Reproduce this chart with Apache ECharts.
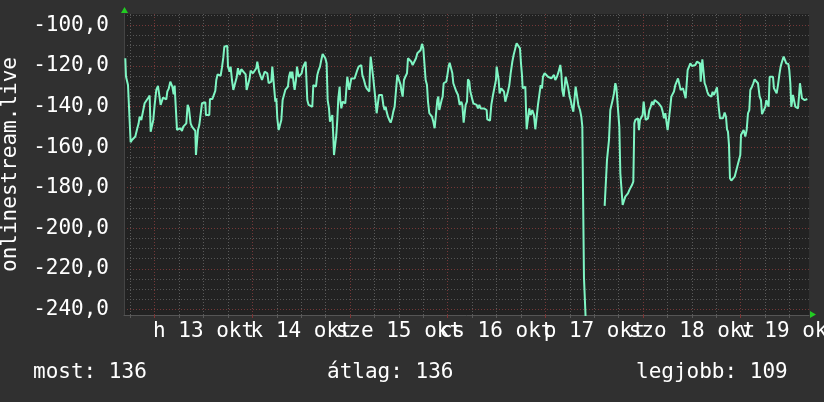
<!DOCTYPE html>
<html>
<head>
<meta charset="utf-8">
<script src="https://cdn.jsdelivr.net/npm/echarts@6/dist/echarts.min.js"></script>
<style>html,body{margin:0;padding:0;background:#303030;}#c{width:824px;height:402px;}</style>
</head>
<body>
<div id="c"></div>
<script>
// hours relative to 13 okt 00:00
const hrs = [-7.22,-7.05,-6.73,-6.56,-6.07,-5.91,-5.58,-4.76,-4.27,-3.94,-3.70,-3.29,-2.88,-2.47,-2.06,-1.65,-1.24,-0.99,-0.58,-0.34,-0.01,0.40,0.81,1.22,1.46,1.79,2.04,2.86,3.10,3.43,3.84,4.08,4.33,4.66,4.90,5.31,5.48,5.89,6.30,6.70,7.03,7.77,8.10,8.42,8.83,9.16,9.65,9.98,10.14,10.47,10.64,10.96,11.29,11.62,12.44,12.60,13.42,13.58,14.16,14.89,15.14,15.47,16.20,16.53,16.86,17.11,17.84,18.01,18.42,18.66,18.99,19.32,19.81,20.14,20.46,20.87,21.28,21.77,22.35,22.59,23.08,23.33,23.58,24.15,24.56,24.97,25.21,
25.63,26.04,26.37,26.69,27.02,27.43,27.68,28.00,28.33,28.66,28.90,29.23,29.40,29.64,29.89,30.13,30.46,30.79,31.12,31.44,31.77,32.10,32.43,32.75,33.00,33.33,33.57,33.82,34.15,34.39,34.72,34.97,35.38,35.78,36.11,36.36,36.69,37.10,37.34,37.50,37.83,38.73,38.98,39.31,39.63,39.96,40.29,40.62,40.94,41.27,41.60,41.93,42.25,42.50,42.83,43.07,43.40,43.65,43.89,44.06,44.38,44.63,44.87,45.12,45.45,45.61,45.86,46.19,46.84,47.09,47.33,47.66,47.82,48.07,48.31,49.13,49.54,49.79,50.12,50.77,51.02,51.43,51.75,52.08,52.74,52.90,53.07,53.48,53.72,53.97,54.21,54.54,54.87,55.11,55.52,55.85,56.18,56.50,56.75,56.99,57.32,57.65,57.98,58.31,58.63,58.96,59.29,59.62,59.94,60.44,
60.60,60.93,61.26,61.59,62.00,62.24,62.65,63.06,63.39,63.88,64.21,64.54,65.03,65.35,65.68,66.01,66.34,66.58,66.91,67.16,67.48,68.14,68.47,68.79,69.20,69.45,69.70,69.94,70.27,70.51,70.76,71.01,71.66,71.99,72.23,72.48,72.89,73.14,73.38,73.71,74.12,74.53,74.94,75.35,75.59,75.92,76.17,76.41,76.74,76.98,77.31,77.56,77.97,78.29,79.11,79.44,79.77,80.10,80.42,80.92,81.24,81.57,81.73,82.39,82.72,83.13,83.54,83.86,84.03,84.36,84.52,84.76,85.17,85.58,85.83,86.16,86.48,86.81,87.14,87.47,87.88,88.20,88.61,88.94,89.43,89.76,90.01,90.25,90.42,91.07,91.40,91.73,92.05,92.38,92.79,93.20,93.53,93.86,94.18,94.51,94.84,
95.17,95.41,95.82,96.23,96.64,97.46,98.12,98.44,98.85,99.26,99.67,99.92,100.16,100.49,100.74,100.98,101.31,101.56,101.97,102.21,102.54,102.87,103.19,103.44,103.85,104.10,104.51,104.83,105.08,105.41,105.49,105.98,106.22,108.0,
110.57,110.98,111.14,111.39,111.63,111.96,112.29,112.53,112.86,113.19,113.43,113.68,113.92,114.17,114.42,114.74,114.99,115.32,115.64,116.30,116.63,117.28,117.61,117.86,118.10,118.43,118.76,119.00,119.25,119.90,120.15,120.39,120.64,121.21,121.54,121.87,122.20,122.52,122.85,123.18,123.83,124.49,124.82,125.14,125.47,125.80,126.04,126.37,126.62,126.95,127.60,127.93,128.26,128.59,128.91,129.24,
129.82,130.22,130.47,130.80,130.96,131.29,131.62,132.03,132.85,133.25,133.66,133.99,134.16,134.40,134.57,134.97,135.14,135.47,135.79,136.12,136.45,136.78,137.10,137.43,137.76,138.17,138.41,138.58,138.91,139.23,139.64,140.05,140.38,140.63,140.87,141.12,141.36,141.69,142.10,142.51,142.84,143.16,143.57,143.90,144.07,144.39,144.72,145.13,145.46,145.79,146.11,146.36,146.77,147.10,147.42,147.83,148.24,148.65,148.98,149.23,149.72,150.05,150.29,150.54,150.86,151.11,151.93,152.17,152.50,152.83,153.16,153.49,153.81,154.14,154.55,154.88,155.20,155.70,155.94,156.19,156.43,156.84,157.09,157.42,157.74,158.07,158.32,158.56,158.81,159.05,159.71,160.12,160.37];
const vals = [-116.2,-125.2,-125.2,-129.4,-129.4,-157.6,-156.5,-154.8,-150.7,-148.3,-145.0,-146.6,-142.5,-138.4,-137.6,-135.9,-134.6,-152.4,-152.4,-146.6,-139.2,-131.8,-129.8,-129.4,-139.2,-139.2,-135.6,-136.4,-132.6,-131.3,-127.7,-126.9,-130.2,-134.0,-129.7,-129.7,-151.5,-152.0,-150.7,-152.0,-149.9,-148.3,-139.2,-140.9,-148.3,-149.9,-150.7,-152.0,-163.9,-164.2,-151.5,-149.1,-148.3,-138.4,-137.9,-144.2,-144.2,-136.3,-136.3,-132.3,-126.9,-124.1,-124.8,-120.8,-115.9,-110.5,-110.0,-120.3,-122.8,-120.3,-126.9,-131.8,-131.8,-125.7,-121.1,-124.4,-121.6,-121.9,-124.1,-131.8,-131.8,-126.1,-122.3,-123.6,-124.4,-121.1,-117.9,
-122.8,-123.6,-126.9,-127.7,-122.8,-122.8,-123.6,-128.5,-129.4,-127.7,-120.3,-119.5,-131.8,-137.6,-135.9,-145.8,-151.6,-151.6,-146.6,-136.8,-134.3,-131.8,-131.8,-130.2,-125.3,-122.8,-126.1,-122.8,-128.5,-131.8,-126.9,-120.3,-125.3,-125.3,-123.6,-121.1,-119.5,-117.9,-117.9,-136.8,-139.2,-140.1,-129.4,-128.5,-130.2,-124.4,-122.0,-120.3,-117.0,-114.1,-113.4,-116.2,-118.7,-136.8,-140.9,-147.5,-147.5,-144.2,-154.8,-163.9,-164.4,-154.0,-146.6,-135.9,-130.2,-136.8,-140.9,-137.6,-138.4,-137.6,-125.3,-125.3,-131.8,-131.0,-126.1,-126.1,-126.9,-122.0,-120.3,-119.5,-124.4,-126.9,-129.4,-131.0,-132.6,-122.0,-115.4,-115.4,-126.1,-131.0,-135.9,-143.3,-143.3,-134.3,-133.5,-134.3,-139.2,-141.7,-140.1,-142.5,-145.0,-146.6,-147.9,-145.8,-142.5,-140.1,-140.9,-124.4,-123.6,-129.4,
-131.8,-135.1,-126.9,-125.3,-123.6,-116.2,-117.0,-117.9,-119.5,-119.5,-116.2,-113.7,-113.3,-112.1,-109.1,-111.3,-112.1,-126.9,-129.4,-137.6,-143.3,-145.0,-147.5,-150.7,-151.6,-136.8,-135.1,-141.7,-141.7,-136.8,-135.1,-128.5,-127.7,-123.6,-120.3,-118.4,-118.7,-123.6,-128.5,-128.5,-132.6,-134.3,-139.2,-137.6,-139.2,-147.9,-147.9,-139.2,-137.6,-126.6,-127.7,-132.6,-131.8,-138.4,-139.2,-140.9,-139.2,-140.9,-140.1,-140.9,-140.1,-141.7,-146.3,-146.9,-139.2,-134.3,-134.3,-126.9,-120.3,-120.7,-126.9,-133.5,-131.0,-131.0,-132.6,-137.6,-135.1,-132.6,-129.4,-123.6,-117.9,-114.6,-111.3,-108.8,-108.8,-111.3,-118.7,-124.4,-131.0,-130.2,-151.2,-151.2,-140.9,-144.2,-141.7,-144.2,-151.2,-150.7,-139.2,-134.3,-129.4,
-131.0,-125.3,-123.6,-123.6,-125.3,-126.1,-124.4,-126.9,-125.3,-122.8,-119.5,-123.6,-131.8,-135.1,-135.9,-125.3,-124.4,-130.2,-135.1,-136.8,-140.1,-142.5,-143.3,-130.2,-130.2,-139.2,-141.7,-145.0,-149.9,-149.9,-224.7,-224.7,-260.0,null,
-189.0,-188.5,-166.4,-165.5,-156.5,-141.7,-141.7,-136.8,-133.5,-128.5,-130.2,-136.8,-136.8,-149.9,-172.9,-172.9,-188.5,-188.5,-184.4,-182.8,-181.2,-178.7,-177.0,-148.3,-146.6,-145.8,-145.8,-151.6,-146.6,-144.2,-137.6,-137.6,-146.6,-145.8,-141.7,-140.1,-137.6,-139.2,-136.8,-136.8,-138.4,-140.1,-142.5,-145.8,-143.3,-142.5,-151.6,-151.6,-141.7,-135.1,-132.6,-129.4,-128.5,-126.1,-126.9,-131.8,
-131.0,-131.8,-135.9,-135.9,-122.0,-121.1,-118.7,-120.0,-119.5,-117.9,-117.9,-118.7,-127.7,-127.7,-116.7,-116.7,-128.5,-130.2,-132.7,-134.3,-135.1,-135.1,-132.7,-134.3,-133.5,-130.5,-130.2,-140.1,-145.8,-146.3,-145.8,-143.0,-145.0,-151.2,-152.4,-159.0,-175.4,-176.5,-176.5,-174.6,-173.8,-169.6,-168.8,-163.9,-154.0,-153.2,-151.6,-154.8,-151.6,-143.3,-141.7,-131.8,-130.2,-128.5,-126.6,-126.6,-128.5,-135.1,-136.8,-143.7,-143.7,-140.1,-136.8,-137.6,-140.1,-125.3,-125.3,-131.0,-131.8,-133.5,-129.4,-124.4,-120.3,-117.9,-115.4,-115.1,-118.7,-119.0,-122.0,-128.5,-140.1,-134.3,-134.3,-140.1,-139.2,-140.9,-135.1,-128.5,-129.4,-135.9,-136.8,-136.3,-136.3];

const dayTicks = [0, 24, 48, 72, 96, 120, 144];
const dayLabelPos = [12, 36, 60, 84, 108, 132, 156];
const dayLabels = ['h 13 okt', 'k 14 okt', 'sze 15 okt', 'cs 16 okt', 'p 17 okt', 'szo 18 okt', 'v 19 okt'];
const minorX = [-6, 6, 12, 18, 30, 36, 42, 54, 60, 66, 78, 84, 90, 102, 108, 114, 126, 132, 138, 150, 156];
const yMajor = [-240, -220, -200, -180, -160, -140, -120, -100];
const yMinor = [-235,-230,-225,-215,-210,-205,-195,-190,-185,-175,-170,-165,-155,-150,-145,-135,-130,-125,-115,-110,-105,-95];
const yName = 'onlinestream.live';
const stats = ['most: 136', 'átlag: 136', 'legjobb: 109'];

const FONT = 'DejaVu Sans Mono';
const X_MIN = -7.54, X_MAX = 160.78, Y_MIN = -242.8, Y_MAX = -94.35;
const data = hrs.map((h, i) => [h, vals[i]]);
const dayLabelFmt = v => dayLabels[dayLabelPos.indexOf(Math.round(v))] || '';
const evenPos = dayLabelPos.filter((p, i) => i % 2 === 0);
const oddPos = dayLabelPos.filter((p, i) => i % 2 === 1);

function labelAxis(values) {
  return {type: 'value', min: X_MIN, max: X_MAX, position: 'bottom',
    axisLine: {show: false, onZero: false}, axisTick: {show: false}, splitLine: {show: false},
    axisLabel: {show: true, customValues: values, margin: 6, color: '#ffffff',
      fontFamily: FONT, fontSize: 21, showMinLabel: true, showMaxLabel: true, hideOverlap: false,
      formatter: dayLabelFmt}};
}

const chart = echarts.init(document.getElementById('c'), null, {renderer: 'canvas'});
chart.setOption({
  animation: false,
  backgroundColor: '#303030',
  grid: {left: 124, right: 15, top: 14, bottom: 87, show: true, backgroundColor: '#222222', borderWidth: 0,
         containLabel: false, outerBoundsMode: 'none'},
  xAxis: [
    {type: 'value', min: X_MIN, max: X_MAX, position: 'bottom',
     axisLine: {show: true, onZero: false, lineStyle: {color: '#555555', width: 1}},
     axisTick: {show: true, customValues: minorX, length: 3, lineStyle: {color: '#5a5a5a'}},
     axisLabel: {show: false},
     splitLine: {show: true, lineStyle: {color: '#5a5a5a', width: 1, type: [1, 2]}}},
    {type: 'value', min: X_MIN, max: X_MAX, position: 'bottom',
     axisLine: {show: false, onZero: false},
     axisTick: {show: true, customValues: dayTicks, length: 3, lineStyle: {color: '#803434'}},
     axisLabel: {show: false},
     splitLine: {show: true, lineStyle: {color: '#743838', width: 1, type: [1, 2]}}},
    labelAxis(evenPos),
    labelAxis(oddPos)
  ],
  yAxis: [
    {type: 'value', min: Y_MIN, max: Y_MAX,
     axisLine: {show: true, onZero: false, lineStyle: {color: '#444444'}},
     axisTick: {show: false, customValues: yMinor},
     axisLabel: {show: false},
     splitLine: {show: true, lineStyle: {color: '#555555', width: 1, type: [1, 2]}},
     name: yName, nameLocation: 'middle', nameRotate: 90, nameGap: 103,
     nameTextStyle: {color: '#ffffff', fontFamily: FONT, fontSize: 21}},
    {type: 'value', min: Y_MIN, max: Y_MAX, position: 'left',
     axisLine: {show: false, onZero: false},
     axisTick: {show: false, customValues: yMajor},
     axisLabel: {show: true, customValues: yMajor, margin: 15, color: '#ffffff', fontFamily: FONT, fontSize: 21,
       showMinLabel: true, showMaxLabel: true,
       formatter: v => v.toFixed(1).replace('.', ',')},
     splitLine: {show: true, lineStyle: {color: '#743838', width: 1, type: [1, 2]}}}
  ],
  graphic: [
    {type: 'polygon', shape: {points: [[121, 13], [128, 13], [124.5, 7]]}, style: {fill: '#22cc22'}, z: 100},
    {type: 'polygon', shape: {points: [[810, 311], [810, 318], [816, 314.5]]}, style: {fill: '#22cc22'}, z: 100},
    {type: 'text', left: 33, top: 362, style: {text: stats[0], fill: '#ffffff', font: '21px "DejaVu Sans Mono"'}},
    {type: 'text', left: 327, top: 362, style: {text: stats[1], fill: '#ffffff', font: '21px "DejaVu Sans Mono"'}},
    {type: 'text', left: 636, top: 362, style: {text: stats[2], fill: '#ffffff', font: '21px "DejaVu Sans Mono"'}}
  ],
  series: [{
    type: 'line', xAxisIndex: 0, yAxisIndex: 0, data: data,
    showSymbol: false, connectNulls: false, clip: true,
    lineStyle: {color: '#7ff5c3', width: 2}, z: 10
  }]
});
</script>
</body>
</html>
